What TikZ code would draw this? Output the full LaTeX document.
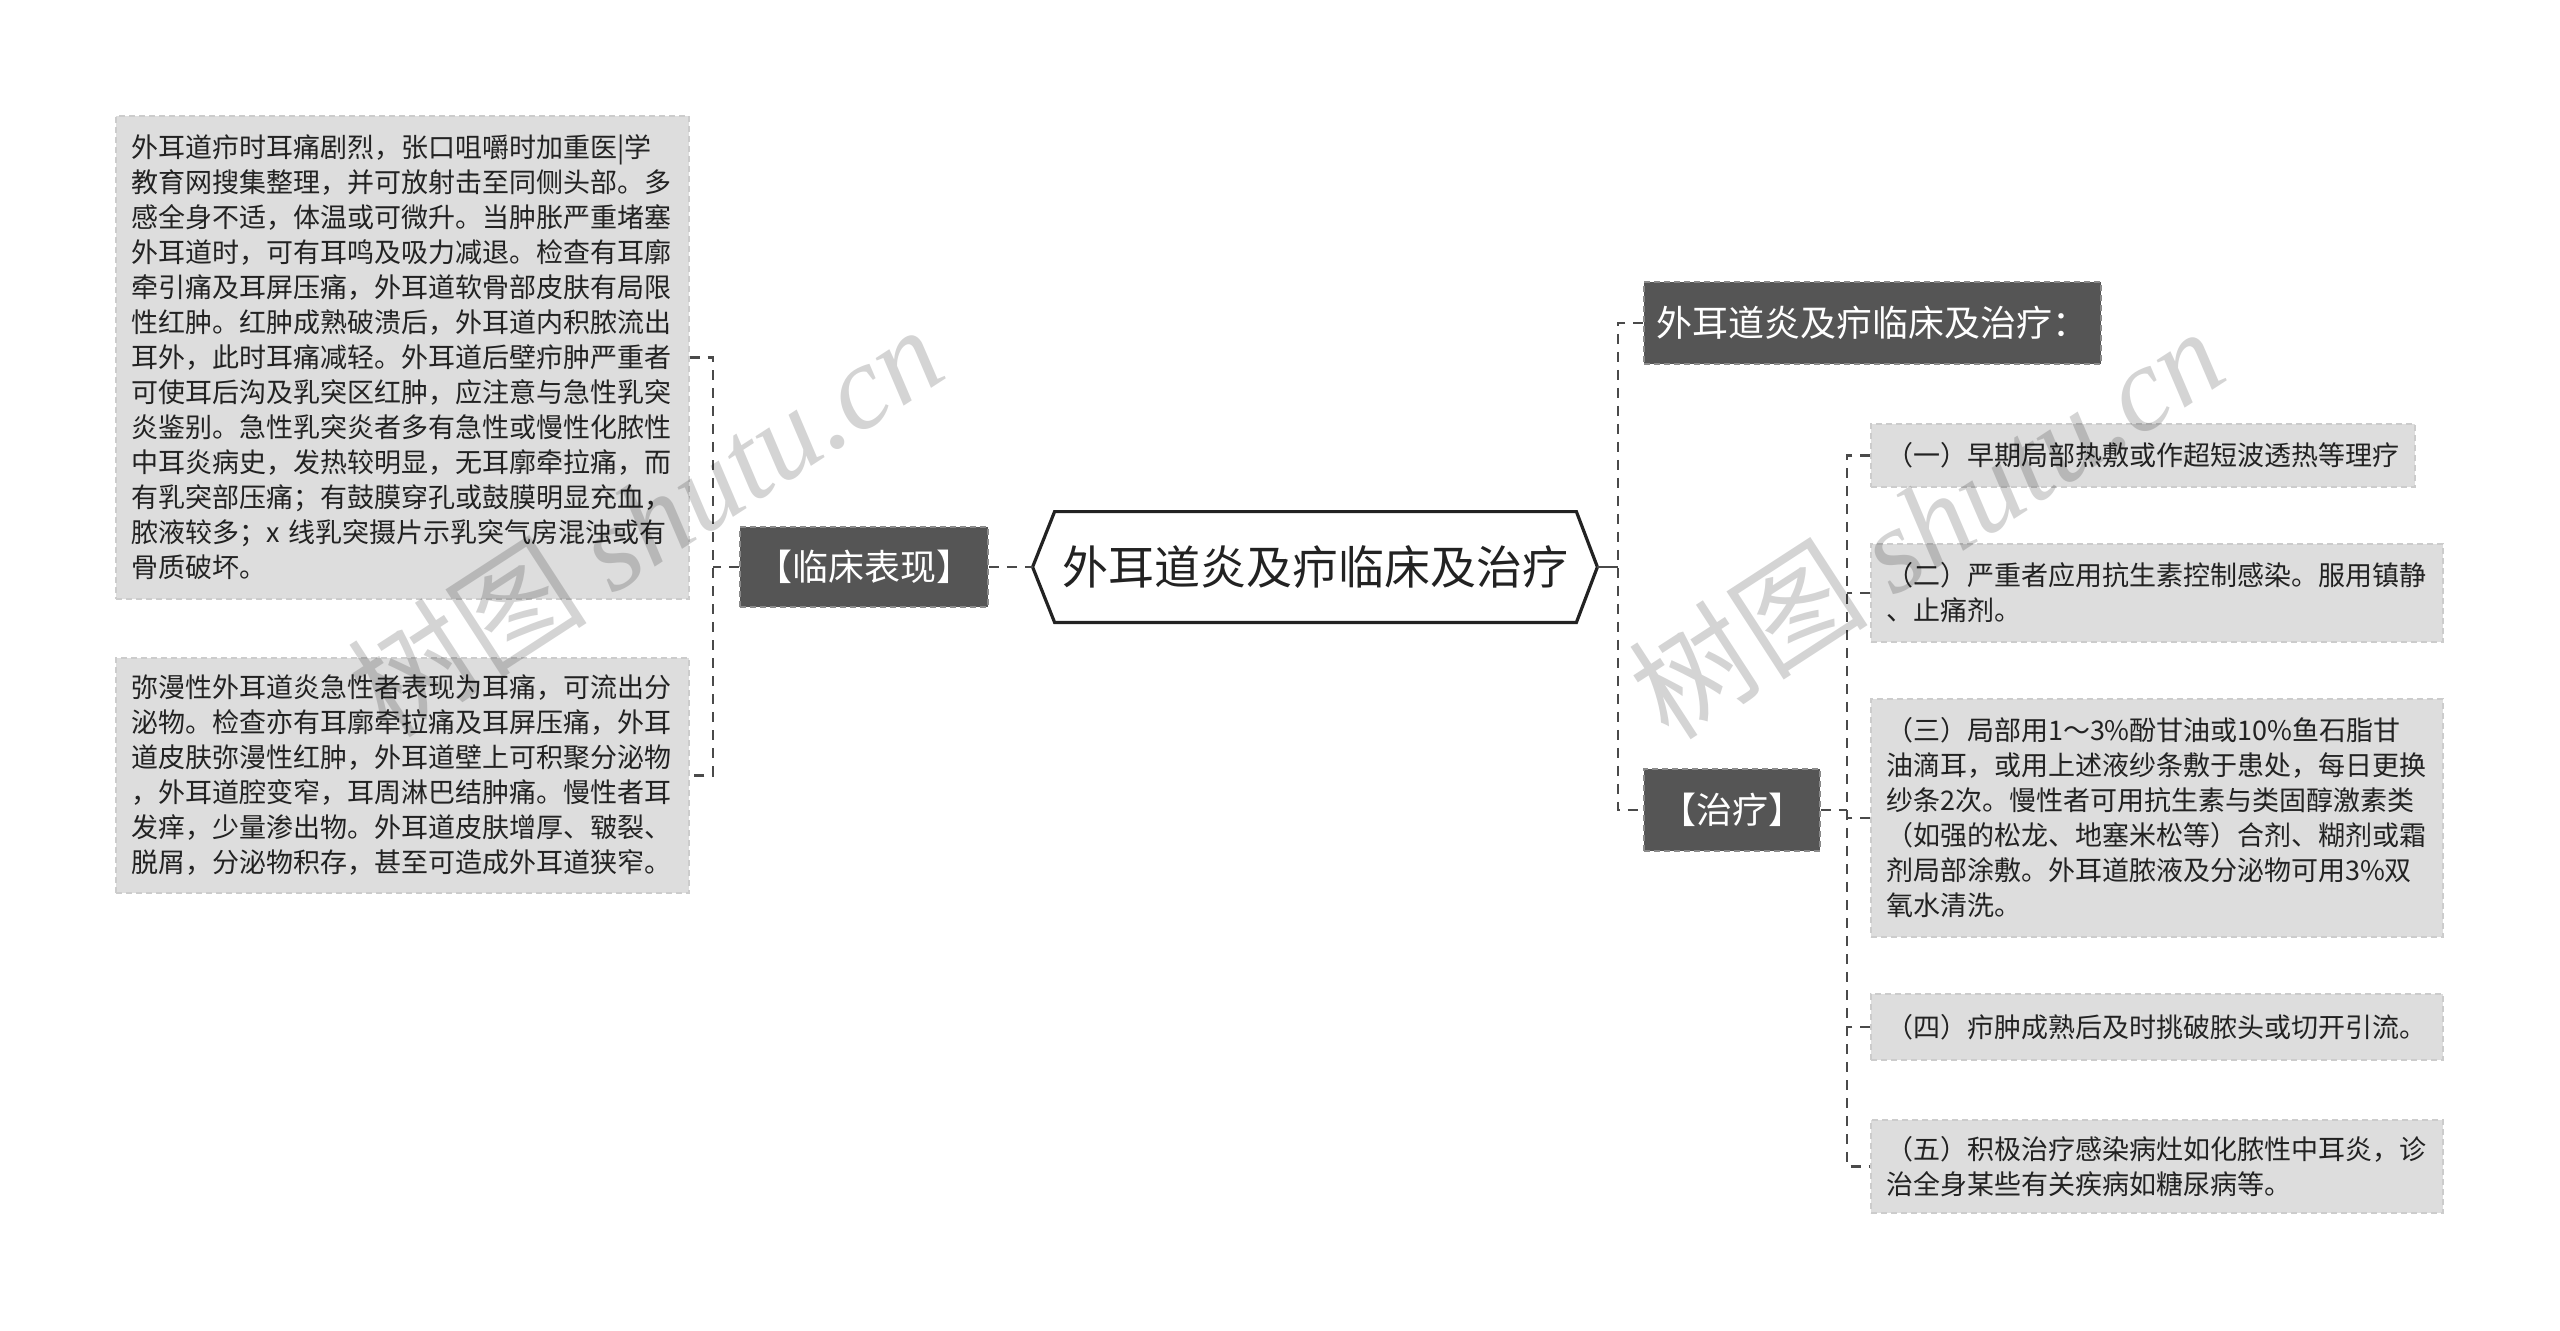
\documentclass[tikz,border=0pt]{standalone}
\usepackage{fontspec}
\newfontfamily\cjk{Noto Sans CJK SC}
\newfontfamily\wmserif{Liberation Serif}
\usetikzlibrary{calc}
\pgfdeclarelayer{back}
\pgfdeclarelayer{bg}
\pgfsetlayers{back,bg,main}
\definecolor{darkfill}{HTML}{555555}
\definecolor{darkedge}{HTML}{8A8A8A}
\definecolor{boxfill}{HTML}{DDDDDD}
\definecolor{boxedge}{HTML}{CCCCCC}
\definecolor{textdark}{HTML}{222222}
\definecolor{linecol}{HTML}{4A4A4A}
\tikzset{
  lbox/.style={fill=boxfill, draw=boxedge, dash pattern=on 3pt off 2pt, line width=0.6pt,
    text=textdark, font=\cjk\fontsize{13.5pt}{17.5pt}\selectfont, align=left,
    inner xsep=7.5pt, inner ysep=0pt},
  dbox/.style={fill=darkfill, draw=darkedge, dash pattern=on 3pt off 2pt, line width=0.8pt,
    text=white, font=\cjk\fontsize{18pt}{22pt}\selectfont, inner sep=0pt},
  rootbox/.style={font=\cjk\fontsize{23pt}{28pt}\selectfont, text=textdark, inner sep=0pt},
  hexline/.style={draw=textdark, fill=white, line width=1.6pt, line join=miter},
  link/.style={draw=linecol, line width=1.2pt, dash pattern=on 5pt off 4pt},
  linksolid/.style={draw=linecol, line width=1.4pt},
  wmark/.style={text=black, text opacity=0.17, rotate=33, inner sep=0pt}
}
\begin{document}
\begin{tikzpicture}[x=0.5pt,y=-0.5pt]
\begin{pgfonlayer}{back}
  \fill[white] (0,0) rectangle (2560,1330);
\end{pgfonlayer}
\useasboundingbox (0,0) rectangle (2560,1330);

% left boxes
\node[lbox, text width=271.5pt, minimum height=241.5pt] (box1) at (402.5,357.5) {外耳道疖时耳痛剧烈，张口咀嚼时加重医|学\\
教育网搜集整理，并可放射击至同侧头部。多\\
感全身不适，体温或可微升。当肿胀严重堵塞\\
外耳道时，可有耳鸣及吸力减退。检查有耳廓\\
牵引痛及耳屏压痛，外耳道软骨部皮肤有局限\\
性红肿。红肿成熟破溃后，外耳道内积脓流出\\
耳外，此时耳痛减轻。外耳道后壁疖肿严重者\\
可使耳后沟及乳突区红肿，应注意与急性乳突\\
炎鉴别。急性乳突炎者多有急性或慢性化脓性\\
中耳炎病史，发热较明显，无耳廓牵拉痛，而\\
有乳突部压痛；有鼓膜穿孔或鼓膜明显充血，\\
脓液较多；x 线乳突摄片示乳突气房混浊或有\\
骨质破坏。};

\node[lbox, text width=271.5pt, minimum height=117.5pt] (box2) at (402.5,775.5) {弥漫性外耳道炎急性者表现为耳痛，可流出分\\
泌物。检查亦有耳廓牵拉痛及耳屏压痛，外耳\\
道皮肤弥漫性红肿，外耳道壁上可积聚分泌物\\
，外耳道腔变窄，耳周淋巴结肿痛。慢性者耳\\
发痒，少量渗出物。外耳道皮肤增厚、皲裂、\\
脱屑，分泌物积存，甚至可造成外耳道狭窄。};

% branch nodes
\node[dbox, minimum width=124pt, minimum height=40pt] (clin) at (864,567) {【临床表现】};
\node[rootbox, minimum width=260.5pt, minimum height=55pt] (root) at (1315.5,567) {外耳道炎及疖临床及治疗};
\coordinate (rootL) at ($(root.west)+(-22,0)$);
\coordinate (rootR) at ($(root.east)+(21,0)$);
\begin{pgfonlayer}{bg}
  \path[hexline] (root.north west) -- (root.north east) -- (rootR) -- (root.south east)
    -- (root.south west) -- (rootL) -- cycle;
\end{pgfonlayer}
\node[dbox, minimum width=228.5pt, minimum height=41pt] (title) at (1872.5,323) {外耳道炎及疖临床及治疗：};
\node[dbox, minimum width=88pt, minimum height=41pt] (treat) at (1732,810) {【治疗】};

% right boxes
\node[lbox, text width=257pt, minimum height=31.5pt] (t1) at (2143,455.5) {（一）早期局部热敷或作超短波透热等理疗};
\node[lbox, text width=271pt, minimum height=49pt] (t2) at (2157,593) {（二）严重者应用抗生素控制感染。服用镇静\\
、止痛剂。};
\node[lbox, text width=271pt, minimum height=119pt] (t3) at (2157,818) {（三）局部用1～3\%酚甘油或10\%鱼石脂甘\\
油滴耳，或用上述液纱条敷于患处，每日更换\\
纱条2次。慢性者可用抗生素与类固醇激素类\\
（如强的松龙、地塞米松等）合剂、糊剂或霜\\
剂局部涂敷。外耳道脓液及分泌物可用3\%双\\
氧水清洗。};
\node[lbox, text width=271pt, minimum height=33pt] (t4) at (2157,1027) {（四）疖肿成熟后及时挑破脓头或切开引流。};
\node[lbox, text width=271pt, minimum height=46.5pt] (t5) at (2157,1166.5) {（五）积极治疗感染病灶如化脓性中耳炎，诊\\
治全身某些有关疾病如糖尿病等。};

% connectors
\coordinate (lv) at (713,567);
\draw[link] (box1.east) -| (lv) |- (box2.east);
\draw[link] (clin.west) -- (lv);
\draw[link] (clin.east) -- (rootL);

\coordinate (rv) at (1618,567);
\draw[linksolid] (rootR) -- (rv);
\draw[link] (title.west) -| (rv) |- (treat.west);

\coordinate (tv) at (1847,810);
\draw[link] (treat.east) -- (tv);
\draw[link] (t1.west) -| (tv) |- (t5.west);
\draw[link] (t2.west) -- (t2.west -| tv);
\draw[link] (t3.west) -- (t3.west -| tv);
\draw[link] (t4.west) -- (t4.west -| tv);

% watermarks
\node[wmark] (wm1) at (645,520) {\cjk\fontsize{60pt}{68pt}\selectfont 树图 \wmserif\itshape shutu.cn};
\node[wmark] (wm2) at (1926,522) {\cjk\fontsize{60pt}{68pt}\selectfont 树图 \wmserif\itshape shutu.cn};
\end{tikzpicture}
\end{document}
